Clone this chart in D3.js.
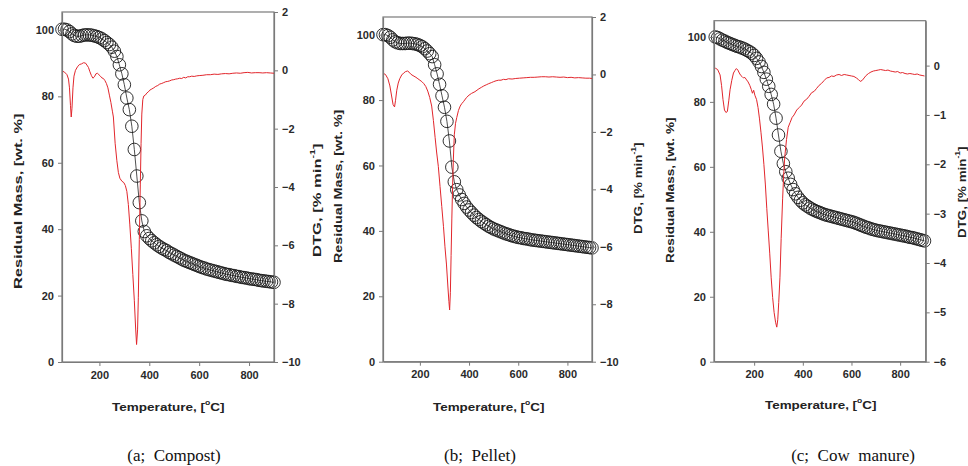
<!DOCTYPE html>
<html><head><meta charset="utf-8">
<script src="https://cdn.jsdelivr.net/npm/d3@7"></script>
<style>body{margin:0;background:#fff}</style>
</head><body>
<svg id="chart" width="968" height="466"></svg>
<script>
// ---------- DATA ----------
const tgTempA = [50,60,70,80,90,100,110,120,130,140,150,160,170,180,190,200,210,220,230,240,250,260,270,280,290,300,310,320,330,340,350,360,370,380,390,400,410,420,430,440,450,460,470,480,490,500,510,520,530,540,550,560,570,580,590,600,610,620,630,640,650,660,670,680,690,700,710,720,730,740,750,760,770,780,790,800,810,820,830,840,850,860,870,880,890,900];
const massA = [100.2,100.2,100,99.5,98.8,98.3,98.1,98.1,98.3,98.5,98.5,98.5,98.4,98.2,98.0,97.7,97.3,96.8,96.2,95.6,94.8,93.6,92.0,89.5,86.8,83.5,79.5,76.0,71.0,64.0,56.0,48.0,42.5,39.3,38.0,37.2,36.5,35.9,35.3,34.8,34.3,33.9,33.5,33.0,32.6,32.2,31.8,31.4,31.0,30.6,30.3,30.0,29.7,29.4,29.1,28.8,28.5,28.3,28.0,27.8,27.6,27.4,27.2,27.0,26.8,26.6,26.4,26.3,26.1,26.0,25.8,25.7,25.5,25.4,25.3,25.1,25.0,24.9,24.8,24.6,24.5,24.4,24.3,24.2,24.1,24.0];

const dtgTempA = [50,60,70,76,80,84,87,90,94,98,104,112,120,128,136,144,150,156,162,168,174,180,186,192,198,204,210,216,222,228,234,240,246,252,256,263,270,276,282,290,298,304,310,316,322,328,334,340,345,349,353,356,360,364,367,370,374,378,384,390,396,402,410,418,426,434,442,450,458,466,474,482,490,498,506,514,522,530,538,546,554,562,570,580,590,600,615,630,645,660,675,690,705,720,735,750,765,780,795,810,825,840,855,870,885,900];
const dtgA = [-0.02,-0.06,-0.15,-0.3,-0.6,-1.2,-1.6,-1.3,-0.6,-0.2,0.0,0.12,0.2,0.22,0.26,0.25,0.18,0.1,-0.05,-0.18,-0.27,-0.22,-0.12,-0.1,-0.15,-0.2,-0.26,-0.28,-0.35,-0.45,-0.6,-0.85,-1.1,-1.4,-1.6,-2.5,-3.1,-3.5,-3.7,-3.8,-3.85,-3.95,-4.15,-4.6,-5.3,-6.1,-7.0,-7.9,-8.8,-9.4,-8.9,-7.8,-5.8,-3.9,-2.5,-1.5,-1.0,-0.88,-0.85,-0.78,-0.74,-0.68,-0.64,-0.6,-0.55,-0.52,-0.47,-0.45,-0.42,-0.39,-0.38,-0.36,-0.33,-0.32,-0.3,-0.29,-0.27,-0.28,-0.24,-0.26,-0.22,-0.22,-0.2,-0.21,-0.19,-0.18,-0.17,-0.15,-0.15,-0.13,-0.14,-0.12,-0.11,-0.12,-0.1,-0.09,-0.1,-0.08,-0.07,-0.09,-0.08,-0.08,-0.09,-0.08,-0.09,-0.1];

const tgTempB = [50,60,70,80,90,100,110,120,130,140,150,160,170,180,190,200,210,220,230,240,250,260,270,280,290,300,310,320,330,340,350,360,370,380,390,400,410,420,430,440,450,460,470,480,490,500,510,520,530,540,550,560,570,580,590,600,610,620,630,640,650,660,670,680,690,700,710,720,730,740,750,760,770,780,790,800,810,820,830,840,850,860,870,880,890,900];
const massB = [100,100,99.7,99.2,98.4,97.8,97.5,97.3,97.3,97.3,97.4,97.4,97.3,97.2,97.0,96.7,96.3,95.7,95.0,94.2,93.3,90.8,88.0,84.8,81.3,77.8,73.5,67.5,59.5,55.0,52.6,51.0,49.6,48.4,47.3,46.4,45.6,44.8,44.1,43.5,42.9,42.4,41.9,41.4,41.0,40.6,40.3,40.0,39.7,39.4,39.1,38.9,38.6,38.4,38.2,38.0,37.9,37.7,37.6,37.5,37.3,37.2,37.1,37.0,36.9,36.8,36.7,36.6,36.5,36.4,36.3,36.2,36.1,36.0,35.9,35.8,35.7,35.6,35.5,35.4,35.3,35.2,35.1,35.0,34.9,34.8];

const dtgTempB = [50,60,70,78,85,91,97,101,106,112,118,126,134,142,150,156,162,168,176,184,192,200,208,216,224,232,240,248,255,262,268,275,282,289,296,302,308,314,318,321,324,327,330,333,336,340,345,350,357,364,370,377,390,400,410,424,440,450,460,470,480,492,500,510,520,530,540,550,560,575,590,605,620,635,650,665,680,695,710,725,740,755,770,785,800,815,830,845,860,875,890,900];
const dtgB = [0.04,0.0,-0.15,-0.4,-0.75,-1.05,-1.13,-0.9,-0.55,-0.3,-0.15,-0.02,0.05,0.1,0.12,0.08,0.02,-0.02,-0.06,-0.1,-0.15,-0.2,-0.25,-0.32,-0.42,-0.58,-0.8,-1.1,-1.6,-2.2,-2.7,-3.2,-3.9,-4.6,-5.3,-6.0,-6.6,-7.4,-7.9,-8.2,-7.6,-6.3,-5.0,-3.9,-3.0,-2.1,-1.7,-1.5,-1.25,-1.1,-1.02,-0.95,-0.8,-0.72,-0.66,-0.6,-0.5,-0.45,-0.4,-0.36,-0.32,-0.28,-0.25,-0.22,-0.2,-0.2,-0.17,-0.18,-0.15,-0.16,-0.14,-0.13,-0.12,-0.11,-0.1,-0.1,-0.09,-0.08,-0.08,-0.09,-0.08,-0.09,-0.1,-0.09,-0.11,-0.1,-0.12,-0.11,-0.12,-0.13,-0.13,-0.14];

const tgTempC = [40,50,60,70,80,90,100,110,120,130,140,150,160,170,180,190,200,210,220,230,240,250,260,270,280,290,300,310,320,330,340,350,360,370,380,390,400,410,420,430,440,450,460,470,480,490,500,510,520,530,540,550,560,570,580,590,600,610,620,630,640,650,660,670,680,690,700,710,720,730,740,750,760,770,780,790,800,810,820,830,840,850,860,870,880,890,900];
const massC = [100,99.8,99.4,99.0,98.7,98.3,98.0,97.7,97.4,97.1,96.9,96.6,96.3,95.9,95.5,95.0,94.3,93.4,92.3,90.9,89.1,87.0,84.8,82.3,79.3,75.0,69.8,64.8,61.0,58.5,56.5,54.6,53.0,51.7,50.6,49.7,48.9,48.3,47.8,47.3,46.9,46.5,46.2,45.9,45.6,45.3,45.1,44.9,44.7,44.5,44.3,44.1,43.9,43.7,43.5,43.3,43.1,42.9,42.6,42.3,42.0,41.7,41.4,41.2,40.9,40.7,40.5,40.3,40.2,40.0,39.9,39.7,39.6,39.4,39.3,39.1,39.0,38.8,38.7,38.5,38.3,38.2,38.0,37.8,37.6,37.4,37.2];

const dtgTempC = [40,50,60,66,72,78,84,90,96,101,108,115,121,127,133,139,145,150,156,162,169,175,182,188,193,198,203,210,216,222,228,234,240,246,252,258,264,270,276,282,288,293,297,301,306,311,317,322,326,333,340,348,356,364,375,385,395,405,416,426,436,447,457,467,477,488,498,508,518,528,539,549,559,570,580,590,600,610,620,628,636,644,652,660,670,680,690,700,710,720,730,740,750,760,770,780,790,800,810,820,830,840,850,860,870,880,890,900];
const dtgC = [-0.05,-0.08,-0.19,-0.4,-0.69,-0.9,-0.95,-0.93,-0.7,-0.49,-0.3,-0.15,-0.1,-0.06,-0.09,-0.15,-0.2,-0.22,-0.25,-0.24,-0.29,-0.33,-0.4,-0.48,-0.56,-0.5,-0.6,-0.69,-0.85,-1.08,-1.35,-1.65,-2.0,-2.4,-2.9,-3.35,-3.8,-4.3,-4.7,-5.0,-5.2,-5.3,-5.15,-4.8,-4.3,-3.5,-2.7,-2.15,-1.84,-1.5,-1.25,-1.15,-1.05,-1.0,-0.9,-0.85,-0.8,-0.72,-0.68,-0.62,-0.55,-0.52,-0.46,-0.4,-0.36,-0.3,-0.25,-0.24,-0.21,-0.22,-0.19,-0.18,-0.2,-0.18,-0.19,-0.2,-0.21,-0.22,-0.25,-0.28,-0.32,-0.3,-0.25,-0.2,-0.16,-0.13,-0.11,-0.1,-0.09,-0.08,-0.09,-0.1,-0.09,-0.11,-0.12,-0.13,-0.12,-0.15,-0.14,-0.16,-0.17,-0.16,-0.17,-0.18,-0.17,-0.19,-0.2,-0.21];

const xTicks = [200,400,600,800];
const massTicks = [0,20,40,60,80,100];
const dtgTicksAB = [-10,-8,-6,-4,-2,0,2];
const dtgTicksC = [-6,-5,-4,-3,-2,-1,0];
const captions = ["(a;  Compost)", "(b;  Pellet)", "(c;  Cow  manure)"];
const xTitle = "Temperature, [", xTitleSup = "o", xTitleEnd = "C]";
const leftTitle = "Residual Mass, [wt. %]";
const rightTitle = "DTG, [% min", rightTitleSup = "-1", rightTitleEnd = "]";

// ---------- LAYOUT ----------
const panels = [
  {T: tgTempA, m: massA, dT: dtgTempA, d: dtgA, x0: 62, x1: 274, y0: 12, y1: 362,
   xd: [50, 900], ld: [0, 105.4], rd: [-10, 2], rt: dtgTicksAB, cap: captions[0], capX: 174,
   lt: {x: 18, cy: 201, len: 176}, rtl: {x: 317, cy: 200, len: 114}, xt: {cx: 168.5, y: 411, len: 113}},
  {T: tgTempB, m: massB, dT: dtgTempB, d: dtgB, x0: 383, x1: 592, y0: 17, y1: 361.7,
   xd: [50, 900], ld: [0, 105.4], rd: [-10, 2], rt: dtgTicksAB, cap: captions[1], capX: 480,
   lt: {x: 338, cy: 186, len: 154}, rtl: {x: 638, cy: 188, len: 92}, xt: {cx: 489, y: 411, len: 112}},
  {T: tgTempC, m: massC, dT: dtgTempC, d: dtgC, x0: 714, x1: 925.7, y0: 20.7, y1: 361.7,
   xd: [35, 905], ld: [0, 105], rd: [-6, 0.91], rt: dtgTicksC, cap: captions[2], capX: 853,
   lt: {x: 670, cy: 190, len: 146}, rtl: {x: 962, cy: 192, len: 92}, xt: {cx: 821, y: 409, len: 112}}
];

const svg = d3.select("#chart");
const axisColor = "#7a7a7a";
const labelFont = "'Liberation Sans', Arial, sans-serif";

panels.forEach(p => {
  const x = d3.scaleLinear().domain(p.xd).range([p.x0, p.x1]);
  const yL = d3.scaleLinear().domain(p.ld).range([p.y1, p.y0]);
  const yR = d3.scaleLinear().domain(p.rd).range([p.y1, p.y0]);
  const g = svg.append("g");

  // frame
  g.append("rect").attr("x", p.x0).attr("y", p.y0)
    .attr("width", p.x1 - p.x0).attr("height", p.y1 - p.y0)
    .attr("fill", "none").attr("stroke", axisColor).attr("stroke-width", 1.2);

  // TG line + circles
  const tg = p.T.map((t, i) => [t, p.m[i]]);
  g.append("path").datum(tg)
    .attr("d", d3.line().x(d => x(d[0])).y(d => yL(d[1])))
    .attr("fill", "none").attr("stroke", "#222").attr("stroke-width", 0.8);
  g.selectAll("circle.tg").data(tg).enter().append("circle")
    .attr("cx", d => x(d[0])).attr("cy", d => yL(d[1])).attr("r", 6.3)
    .attr("fill", "none").attr("stroke", "#1a1a1a").attr("stroke-width", 0.9);

  // DTG line
  const dtg = p.dT.map((t, i) => [t, p.d[i]]);
  g.append("path").datum(dtg)
    .attr("d", d3.line().x(d => x(d[0])).y(d => yR(d[1])))
    .attr("fill", "none").attr("stroke", "#e2262c").attr("stroke-width", 1);

  // axes
  const styleAxis = sel => {
    sel.select(".domain").attr("stroke", axisColor).attr("stroke-width", 1.2);
    sel.selectAll(".tick line").attr("stroke", axisColor).attr("stroke-width", 1);
    sel.selectAll(".tick text").attr("fill", "#2a2a2a").attr("font-weight", "bold")
      .attr("font-family", labelFont).attr("font-size", 11);
  };
  g.append("g").attr("transform", `translate(0,${p.y1})`)
    .call(d3.axisBottom(x).tickValues(xTicks).tickSize(4).tickSizeOuter(0).tickPadding(5))
    .call(styleAxis);
  g.append("g").attr("transform", `translate(${p.x0},0)`)
    .call(d3.axisLeft(yL).tickValues(massTicks).tickSize(4).tickSizeOuter(0).tickPadding(4))
    .call(styleAxis);
  g.append("g").attr("transform", `translate(${p.x1},0)`)
    .call(d3.axisRight(yR).tickValues(p.rt).tickSize(4).tickSizeOuter(0).tickPadding(4).tickFormat(d3.format("d")))
    .call(styleAxis);

  // titles
  const addTitle = (cx, cy, rot, len, parts) => {
    const tg2 = g.append("g");
    const t = tg2.append("text").attr("text-anchor", "start").attr("dominant-baseline", "central")
      .attr("font-family", labelFont).attr("font-weight", "bold").attr("font-size", 11).attr("fill", "#222");
    parts.forEach(pt => {
      const s = t.append("tspan").text(pt.t);
      if (pt.sup) s.attr("font-size", 7).attr("baseline-shift", "super");
    });
    const w = t.node().getBBox().width;
    const sx = len / w;
    t.attr("x", -w / 2);
    tg2.attr("transform", `translate(${cx},${cy}) rotate(${rot}) scale(${sx},1)`);
  };
  addTitle(p.lt.x, p.lt.cy, -90, p.lt.len, [{t: leftTitle}]);
  addTitle(p.rtl.x, p.rtl.cy, -90, p.rtl.len, [{t: rightTitle}, {t: rightTitleSup, sup: true}, {t: rightTitleEnd}]);
  addTitle(p.xt.cx, p.xt.y - 4, 0, p.xt.len, [{t: xTitle}, {t: xTitleSup, sup: true}, {t: xTitleEnd}]);

  // caption
  svg.append("text").attr("x", p.capX).attr("y", 461).attr("text-anchor", "middle")
    .attr("font-family", "'Liberation Serif', 'Times New Roman', serif").attr("font-size", 17)
    .attr("fill", "#111").style("white-space", "pre").text(p.cap);
});
</script>
</body></html>
